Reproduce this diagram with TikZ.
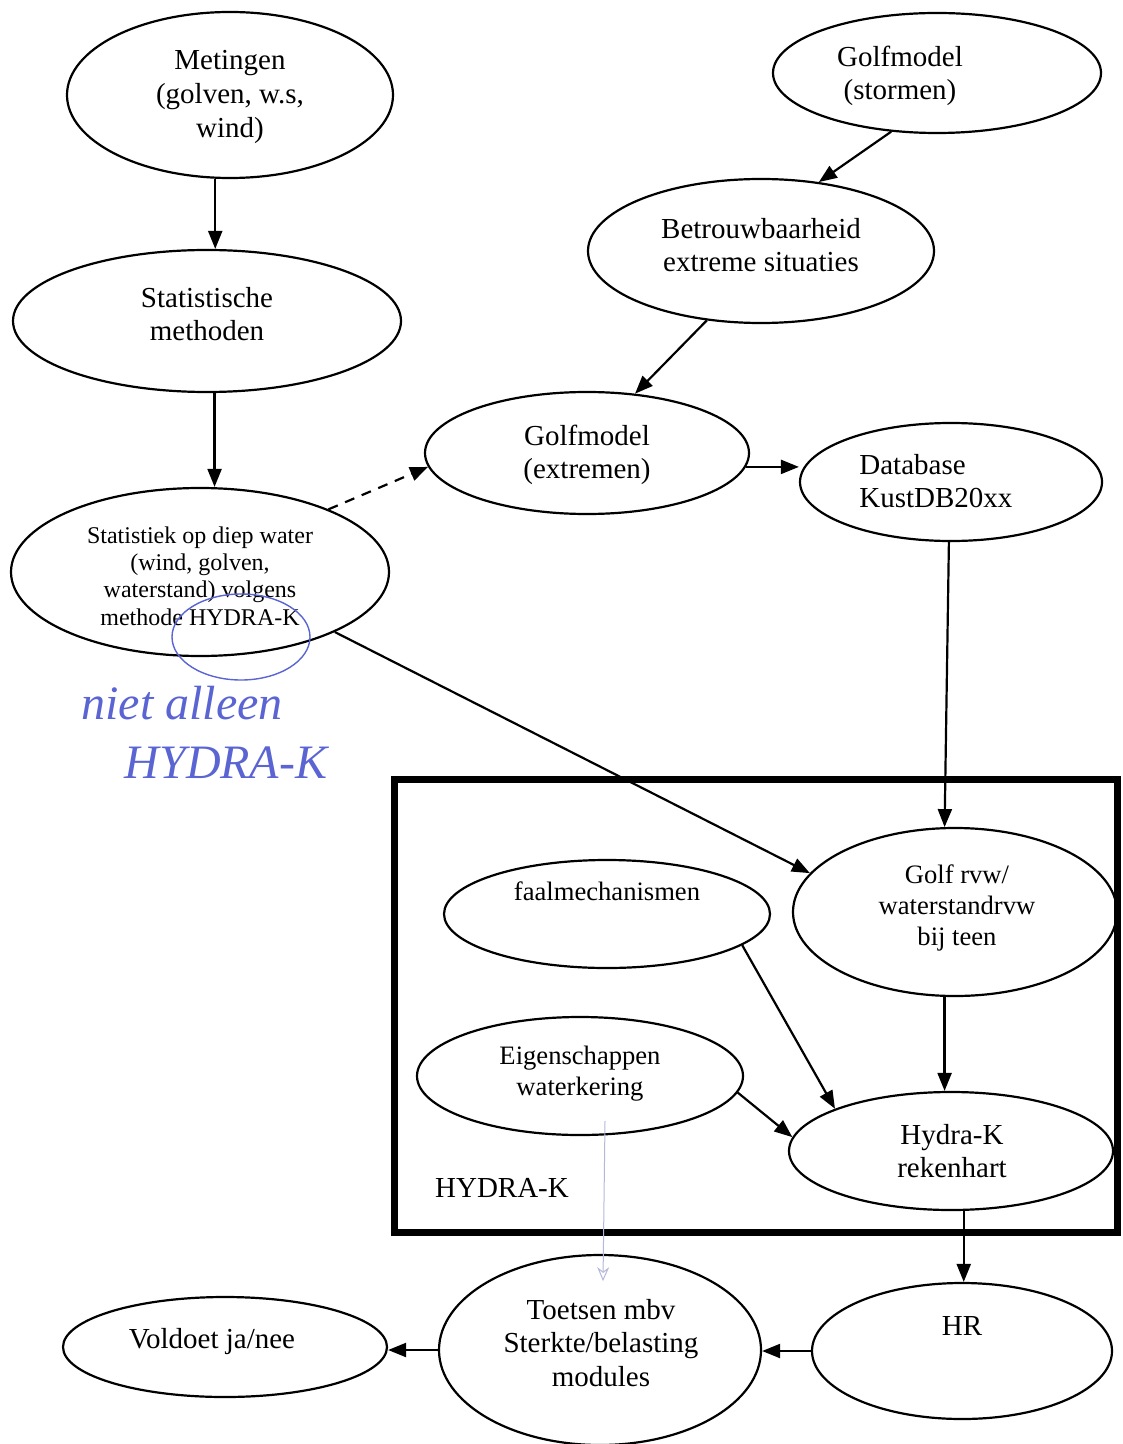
\documentclass[tikz,border=0pt]{standalone}
\usepackage{fontspec}
\setmainfont{Liberation Serif}
\usepackage{xcolor}
\usepackage{tikz}
\usetikzlibrary{shapes.geometric, arrows.meta, calc}
\definecolor{handblue}{HTML}{5A64D2}
\definecolor{faintline}{HTML}{B4B8D8}

\begin{document}
\begin{tikzpicture}[
    x=0.5pt, y=-0.5pt,
    blob/.style={
        draw, ellipse, line width=1.1pt, inner sep=0pt
    },
    txt/.style={
        align=center, inner sep=0pt,
        font=\fontsize{14.5}{16.8}\selectfont
    },
    txtmid/.style={
        txt, font=\fontsize{13.3}{15.5}\selectfont
    },
    txtsmall/.style={
        txt, font=\fontsize{12}{13.6}\selectfont
    },
    flow/.style={
        -{Triangle[length=9pt,width=7pt]}, line width=1.1pt
    },
    hand/.style={
        handblue, inner sep=0pt, font=\itshape\fontsize{24}{26}\selectfont
    }
]
\useasboundingbox (0,0) rectangle (1123,1444);

% measurements
\node[blob, minimum width=163pt, minimum height=83pt] (met) at (230,95) {};
\node[txt] (met-t) at (230,97) {Metingen\\(golven, w.s,\\wind)};

% wave model, storms
\node[blob, minimum width=164pt, minimum height=60pt] (gstorm) at (937,73) {};
\node[txt] (gstorm-t) at (900,76) {Golfmodel\\(stormen)};

% reliability
\node[blob, minimum width=173pt, minimum height=72pt] (betr) at (761,251) {};
\node[txt] (betr-t) at (761,245) {Betrouwbaarheid\\extreme situaties};

% statistical methods
\node[blob, minimum width=194pt, minimum height=71pt] (stat) at (207,321) {};
\node[txt] (stat-t) at (207,314) {Statistische\\methoden};

% wave model, extremes
\node[blob, minimum width=162pt, minimum height=61pt] (gext) at (587,453) {};
\node[txt] (gext-t) at (587,455) {Golfmodel\\(extremen)};

% database
\node[blob, minimum width=151pt, minimum height=59pt] (db) at (951,482) {};
\node[txt, align=left, anchor=west] (db-t) at (859,481) {Database\\KustDB20xx};

% deep water statistics
\node[blob, minimum width=189pt, minimum height=84pt] (diep) at (200,572) {};
\node[txtsmall] (diep-t) at (200,576) {Statistiek op diep water\\(wind, golven,\\waterstand) volgens\\methode HYDRA-K};

% HYDRA-K frame
\draw[line width=3.5pt] (394,779) rectangle (1117,1232);
\node[txt] (frame-t) at (502,1188) {HYDRA-K};

% failure mechanisms
\node[blob, minimum width=163pt, minimum height=54pt] (faal) at (607,914) {};
\node[txtmid] (faal-t) at (607,891) {faalmechanismen};

% wave/water level at toe
\node[blob, minimum width=162pt, minimum height=84pt] (grvw) at (955,912) {};
\node[txtmid] (grvw-t) at (957,908) {Golf rvw/\\waterstandrvw\\bij teen};

% properties of the dike
\node[blob, minimum width=163pt, minimum height=59pt] (eig) at (580,1076) {};
\node[txtmid] (eig-t) at (580,1074) {Eigenschappen\\waterkering};

% computational core
\node[blob, minimum width=162pt, minimum height=59pt] (hyd) at (951,1151) {};
\node[txt] (hyd-t) at (952,1151) {Hydra-K\\rekenhart};

% HR
\node[blob, minimum width=150pt, minimum height=68pt] (hr) at (962,1351) {};
\node[txt] (hr-t) at (962,1326) {HR};

% testing
\node[blob, minimum width=161pt, minimum height=95pt] (toet) at (600,1350) {};
\node[txt] (toet-t) at (601,1343) {Toetsen mbv\\Sterkte/belasting\\modules};

% verdict
\node[blob, minimum width=162pt, minimum height=50pt] (vold) at (225,1347) {};
\node[txt] (vold-t) at (212,1342) {Voldoet ja/nee};

% Connectors
\draw[flow] (met.-100) -- (met.-100 |- stat.north);
\draw[flow] (stat.-84) -- (stat.-84 |- diep.north);
\draw[flow] (gstorm.-128) -- (betr.50);
\draw[flow] (betr.-128) -- (gext.51);
\draw[flow, dashed, dash pattern=on 5pt off 4pt] (diep.26) -- (gext.185);
\draw[flow] (gext.-5) -- (gext.-5 -| db.west);
\draw[flow] (db.-92) -- (grvw.97);
\draw[flow] (diep.-24) -- (grvw.165);
\draw[flow] (faal.-13) -- (hyd.160);
\draw[flow] (grvw.-97) -- (grvw.-97 |- hyd.north);
\draw[flow] (eig.-6) -- (hyd.175);
\draw[flow] (hyd.-78) -- (hyd.-78 |- hr.north);
\draw[flow] (hr.west) -- (hr.west -| toet.east);
\draw[flow] (toet.west) -- (toet.west -| vold.east);
\draw[faintline, line width=0.5pt, -{Stealth[open, length=7pt, width=6pt]}]
    ($(eig.south)+(25,-15)$) -- ($(eig.south)+(23,145)$);

% handwritten note
\node[draw=handblue, line width=0.7pt, ellipse, minimum width=69pt, minimum height=43pt] (ring) at (241,637) {};
\node[hand] (note1) at (182,703) {niet alleen};
\node[hand] (note2) at (226,763) {HYDRA-K};

\end{tikzpicture}
\end{document}
